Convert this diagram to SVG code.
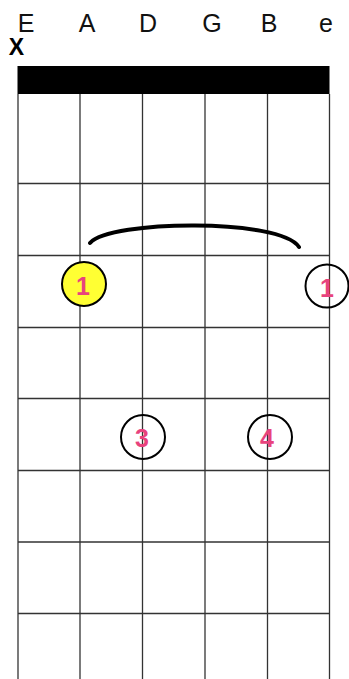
<svg xmlns="http://www.w3.org/2000/svg" width="349" height="679" viewBox="0 0 349 679">
<style>
.str{font-family:"Liberation Sans",Arial,sans-serif;font-size:25px;fill:#111;text-anchor:middle}
.grid line{stroke:#333;stroke-width:1.3}
.dot{stroke:#000;stroke-width:2}
.num{font-family:"Liberation Sans",Arial,sans-serif;font-size:25px;font-weight:bold;fill:#e8437d;text-anchor:middle}
</style>
<rect width="349" height="679" fill="#fff"/>
<g id="labels">
<text class="str" x="26" y="32">E</text>
<text class="str" x="87" y="32">A</text>
<text class="str" x="148" y="32">D</text>
<text class="str" x="212" y="32">G</text>
<text class="str" x="269" y="32">B</text>
<text class="str" x="326" y="32">e</text>
<text x="16.5" y="55" font-family="Liberation Sans,Arial,sans-serif" font-size="23" font-weight="bold" text-anchor="middle" fill="#000">X</text>
</g>
<g id="nut"><rect x="17.5" y="66" width="312" height="28" fill="#000"/></g>
<g id="grid" class="grid">
<line x1="18" y1="94" x2="18" y2="679"/>
<line x1="80" y1="94" x2="80" y2="679"/>
<line x1="142.5" y1="94" x2="142.5" y2="679"/>
<line x1="205" y1="94" x2="205" y2="679"/>
<line x1="267.5" y1="94" x2="267.5" y2="679"/>
<line x1="329.5" y1="94" x2="329.5" y2="679"/>
<line x1="18" y1="183.5" x2="329.5" y2="183.5"/>
<line x1="18" y1="255.5" x2="329.5" y2="255.5"/>
<line x1="18" y1="327.5" x2="329.5" y2="327.5"/>
<line x1="18" y1="398.5" x2="329.5" y2="398.5"/>
<line x1="18" y1="470.5" x2="329.5" y2="470.5"/>
<line x1="18" y1="542" x2="329.5" y2="542"/>
<line x1="18" y1="613.5" x2="329.5" y2="613.5"/>
</g>
<g id="barre"><path d="M90 243 C110 220 280 218 299 247" fill="none" stroke="#000" stroke-width="4" stroke-linecap="round"/></g>
<g id="finger-A1"><circle class="dot" cx="84" cy="284" r="22" fill="#ffff33"/><text class="num" x="83" y="295">1</text></g>
<g id="finger-e1"><circle class="dot" cx="327" cy="286" r="21.5" fill="none"/><text class="num" x="327" y="297">1</text></g>
<g id="finger-D3"><circle class="dot" cx="143" cy="437" r="22" fill="none"/><text class="num" x="142" y="447">3</text></g>
<g id="finger-B4"><circle class="dot" cx="270" cy="437" r="22" fill="none"/><text class="num" x="267" y="447">4</text></g>
</svg>
